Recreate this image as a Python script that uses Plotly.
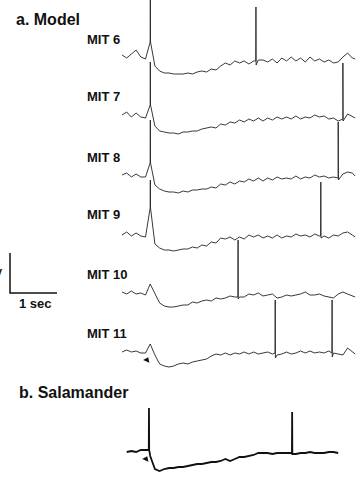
import plotly.graph_objects as go

# ---------------- data (time in s, membrane potential in mV relative to rest) ----------------
t_grid = [0.0, 0.1, 0.2, 0.3, 0.4, 0.5, 0.6, 0.7, 0.8, 0.9,
          1.0, 1.1, 1.2, 1.3, 1.4, 1.5, 1.6, 1.7, 1.8, 1.9,
          2.0, 2.1, 2.2, 2.3, 2.4, 2.5, 2.6, 2.7, 2.8, 2.9,
          3.0, 3.1, 3.2, 3.3, 3.4, 3.5, 3.6, 3.7, 3.8, 3.9,
          4.0, 4.1, 4.2, 4.3, 4.4, 4.5, 4.6, 4.7, 4.8, 4.9, 4.96]

mit6_v = [1, -0.5, 1.5, 3.5, 0, -1, 7.5, -4.5, -7, -8,
          -8, -8.5, -8.5, -8.5, -8, -8.5, -7.5, -7, -7.5, -6,
          -6.5, -4.5, -3, -4, -2, -3, -2, -3.5, -2, -1.5,
          -1.5, -2.5, -1, -3, -0.5, -2, 0, -2, -0.5, -2.5,
          0, -2, -1, -2.5, -1.5, -3, -2.5, 0, 2, -0.5, -1]
mit7_v = [0.5, 2, -0.5, 1.5, -0.5, -1, 5.5, -5, -7.5, -8,
          -8.5, -8.5, -9, -8, -8, -7.5, -7.5, -6.5, -6, -5.5,
          -6, -4, -4.5, -3, -3.5, -2, -3, -1.5, -2.5, -1,
          -2.5, -1, -2, -0.5, -1.5, -0.5, -1.5, 0, -1.5, -0.5,
          -1, 0.5, -0.5, 0, -1.5, -1, -2.5, -1.5, 1, -0.5, -1]
mit8_v = [0, 1, -1, 0.5, -1, -1, 6, -5, -7, -8,
          -8.5, -8.5, -9, -8, -8.5, -7.5, -7.5, -7, -7, -6,
          -6.5, -4.5, -5, -3.5, -4.5, -3, -3.5, -2, -3, -1.5,
          -3, -1.5, -2.5, -1, -2, -1.5, -2, -0.5, -2, -1,
          -1.5, 0, -1, -0.5, -1.5, -1, -1.5, 0.5, 1.5, 1, -0.5]
mit9_v = [0, 1.5, -0.5, 1, -0.5, -1, 13.5, -4.5, -6.5, -7.5,
          -7.5, -8, -7.5, -7, -7, -6, -6.5, -5, -5.5, -3.5,
          -4, -1.5, -2, -1, -2.5, -1, -2, 0, -1, 0,
          -1.5, -0.5, -1.5, 0, -1.5, -0.5, -1, 0.5, -0.5, 0,
          -1, 0.5, -0.5, -0.5, -1.5, 0, -0.5, 1, 1.5, 0, -1]
mit10_v = [0, -1, 0.5, -1, -0.5, -1.5, 4, -1, -5.5, -7,
           -7.5, -7.5, -7, -6.5, -6.5, -5, -5.5, -4.5, -4, -4.5,
           -3, -3.5, -3, -2, -2.5, -2.5, -2.5, -1, -1.5, -0.5,
           -2, -1.5, -1, -3, -2.5, -1.5, -2, -1.5, -1, 0,
           -1.5, -1.5, -1, -2, -2.5, -3, -1, 0, -1, -2, -2.5]
mit11_v = [0, 1, 0, 0.5, -0.5, -0.5, 4, -1.5, -6, -7,
           -7.5, -7, -6, -5.5, -6, -5, -4.5, -4, -3.5, -2,
           -1, -1.5, -0.5, -1.5, -0.5, -1, 0, -1, 0, -1,
           -0.5, 0, -1, -1.5, -1, 0, -1, -0.5, 0.5, -0.5,
           0.5, -0.5, 0, -0.5, 0.5, -0.5, -1, -1.5, 2, 0, -1]

sal_t = t_grid[1:47]
sal_v = [0.5, 1, 0.5, 1.5, 1.5, -1.5, -8, -9, -8, -7.5,
         -7.5, -7, -7, -6.5, -6, -5.5, -5.5, -5, -4.5, -4.5,
         -4, -3, -4, -3, -2, -2, -1.5, -1, 0, 0,
         0, -0.5, 0, 0, 0, 0, -0.5, 0, 0, 0.5,
         0, 0, 0, 0.5, 0.5, 0]

# spikes: time, level before, peak, level after
mit6_spk_t = [0.603, 2.85]
mit6_spk_base = [7.5, -2]
mit6_spk_peak = [28.5, 25]
mit6_spk_after = [7.5, -4]

mit7_spk_t = [0.603, 4.70]
mit7_spk_base = [5.5, -1.5]
mit7_spk_peak = [27, 26.5]
mit7_spk_after = [5.5, -2.5]

mit8_spk_t = [0.603, 4.60]
mit8_spk_base = [6, -1.5]
mit8_spk_peak = [27.5, 26.5]
mit8_spk_after = [6, -2.5]

mit9_spk_t = [0.603, 4.23]
mit9_spk_base = [13.5, -0.5]
mit9_spk_peak = [27.5, 26.5]
mit9_spk_after = [13.5, -1.5]

mit10_spk_t = [2.47]
mit10_spk_base = [-2.5]
mit10_spk_peak = [26]
mit10_spk_after = [-3.5]

mit11_spk_t = [3.26, 4.47]
mit11_spk_base = [-0.5, -0.5]
mit11_spk_peak = [26, 26]
mit11_spk_after = [-3, -2.5]

sal_spk_t = [0.574, 3.62]
sal_spk_base = [1.5, 0]
sal_spk_peak = [22.5, 20.5]
sal_spk_after = [1.5, -0.5]

# stimulus arrowheads (time, mV)
mit11_stim = (0.53, -4)
sal_stim = (0.51, -3)

trace_names = ["MIT 6", "MIT 7", "MIT 8", "MIT 9", "MIT 10", "MIT 11"]

scale_sec = 1
scale_mV = 20

# ---------------- layout constants ----------------
W, H = 361, 479
PX_PER_S = 47.0
T0_PX = 122.0
PX_PER_MV = 2.0

# vertical position of each trace's resting level (axis units = -px/2)
offsets = {"MIT 6": -28.5, "MIT 7": -58.0, "MIT 8": -87.5, "MIT 9": -117.5,
           "MIT 10": -146.0, "MIT 11": -176.0, "Sal": -226.5}
label_py = {"MIT 6": 39, "MIT 7": 97, "MIT 8": 157, "MIT 9": 215,
            "MIT 10": 274, "MIT 11": 333}


def P(px, py):
    return px / W, 1 - py / H


def build(t, v, st, sb, sp, sa):
    pts = list(zip(t, v))
    for a, b, c, d in zip(st, sb, sp, sa):
        pts += [(a - 0.004, b), (a, c), (a + 0.004, d)]
    pts.sort(key=lambda p: p[0])
    return [p[0] for p in pts], [p[1] for p in pts]


fig = go.Figure()

model = [
    ("MIT 6", mit6_v, mit6_spk_t, mit6_spk_base, mit6_spk_peak, mit6_spk_after),
    ("MIT 7", mit7_v, mit7_spk_t, mit7_spk_base, mit7_spk_peak, mit7_spk_after),
    ("MIT 8", mit8_v, mit8_spk_t, mit8_spk_base, mit8_spk_peak, mit8_spk_after),
    ("MIT 9", mit9_v, mit9_spk_t, mit9_spk_base, mit9_spk_peak, mit9_spk_after),
    ("MIT 10", mit10_v, mit10_spk_t, mit10_spk_base, mit10_spk_peak, mit10_spk_after),
    ("MIT 11", mit11_v, mit11_spk_t, mit11_spk_base, mit11_spk_peak, mit11_spk_after),
]

for name, v, st, sb, sp, sa in model:
    x, y = build(t_grid, v, st, sb, sp, sa)
    off = offsets[name]
    fig.add_trace(go.Scatter(x=x, y=[yy + off for yy in y], mode="lines",
                             line=dict(color="#222222", width=0.9), hoverinfo="skip"))

x, y = build(sal_t, sal_v, sal_spk_t, sal_spk_base, sal_spk_peak, sal_spk_after)
fig.add_trace(go.Scatter(x=x, y=[yy + offsets["Sal"] for yy in y], mode="lines",
                         line=dict(color="#111111", width=1.8), hoverinfo="skip"))

# arrowheads
fig.add_trace(go.Scatter(x=[mit11_stim[0], sal_stim[0]],
                         y=[mit11_stim[1] + offsets["MIT 11"], sal_stim[1] + offsets["Sal"]],
                         mode="markers",
                         marker=dict(symbol="triangle-up", size=6, color="#111", angle=25),
                         hoverinfo="skip"))

# scale bar
sb_x0 = (10 - T0_PX) / PX_PER_S
sb_y0 = -293 / PX_PER_MV
fig.add_trace(go.Scatter(x=[sb_x0, sb_x0, sb_x0 + scale_sec],
                         y=[sb_y0 + scale_mV, sb_y0, sb_y0],
                         mode="lines", line=dict(color="#111", width=1.5), hoverinfo="skip"))

ann = []
fb = "Liberation Sans, Arial, sans-serif"


def text(s, px, py, size, anchor="left"):
    x, y = P(px, py)
    ann.append(dict(text=s, x=x, y=y, xref="paper", yref="paper", xanchor=anchor,
                    yanchor="middle", showarrow=False,
                    font=dict(family=fb, size=size, color="#111")))


text("<b>a. Model</b>", 14, 19, 16)
text("<b>b. Salamander</b>", 17, 392, 16)
for n in trace_names:
    text("<b>" + n + "</b>", 85, label_py[n], 13)
text("<b>%d sec</b>" % scale_sec, 17, 303, 13)
text("<b>%d<br>mV</b>" % scale_mV, 5, 266, 11, anchor="right")

fig.update_layout(
    width=W, height=H, margin=dict(l=0, r=0, t=0, b=0),
    paper_bgcolor="white", plot_bgcolor="white", showlegend=False,
    xaxis=dict(range=[-T0_PX / PX_PER_S, (W - T0_PX) / PX_PER_S], visible=False, fixedrange=True),
    yaxis=dict(range=[-H / PX_PER_MV, 0], visible=False, fixedrange=True),
    annotations=ann,
)

fig.write_html("out.html",
               config={"displayModeBar": False},
               post_script="document.body.style.margin='0';document.body.style.overflow='hidden';")
